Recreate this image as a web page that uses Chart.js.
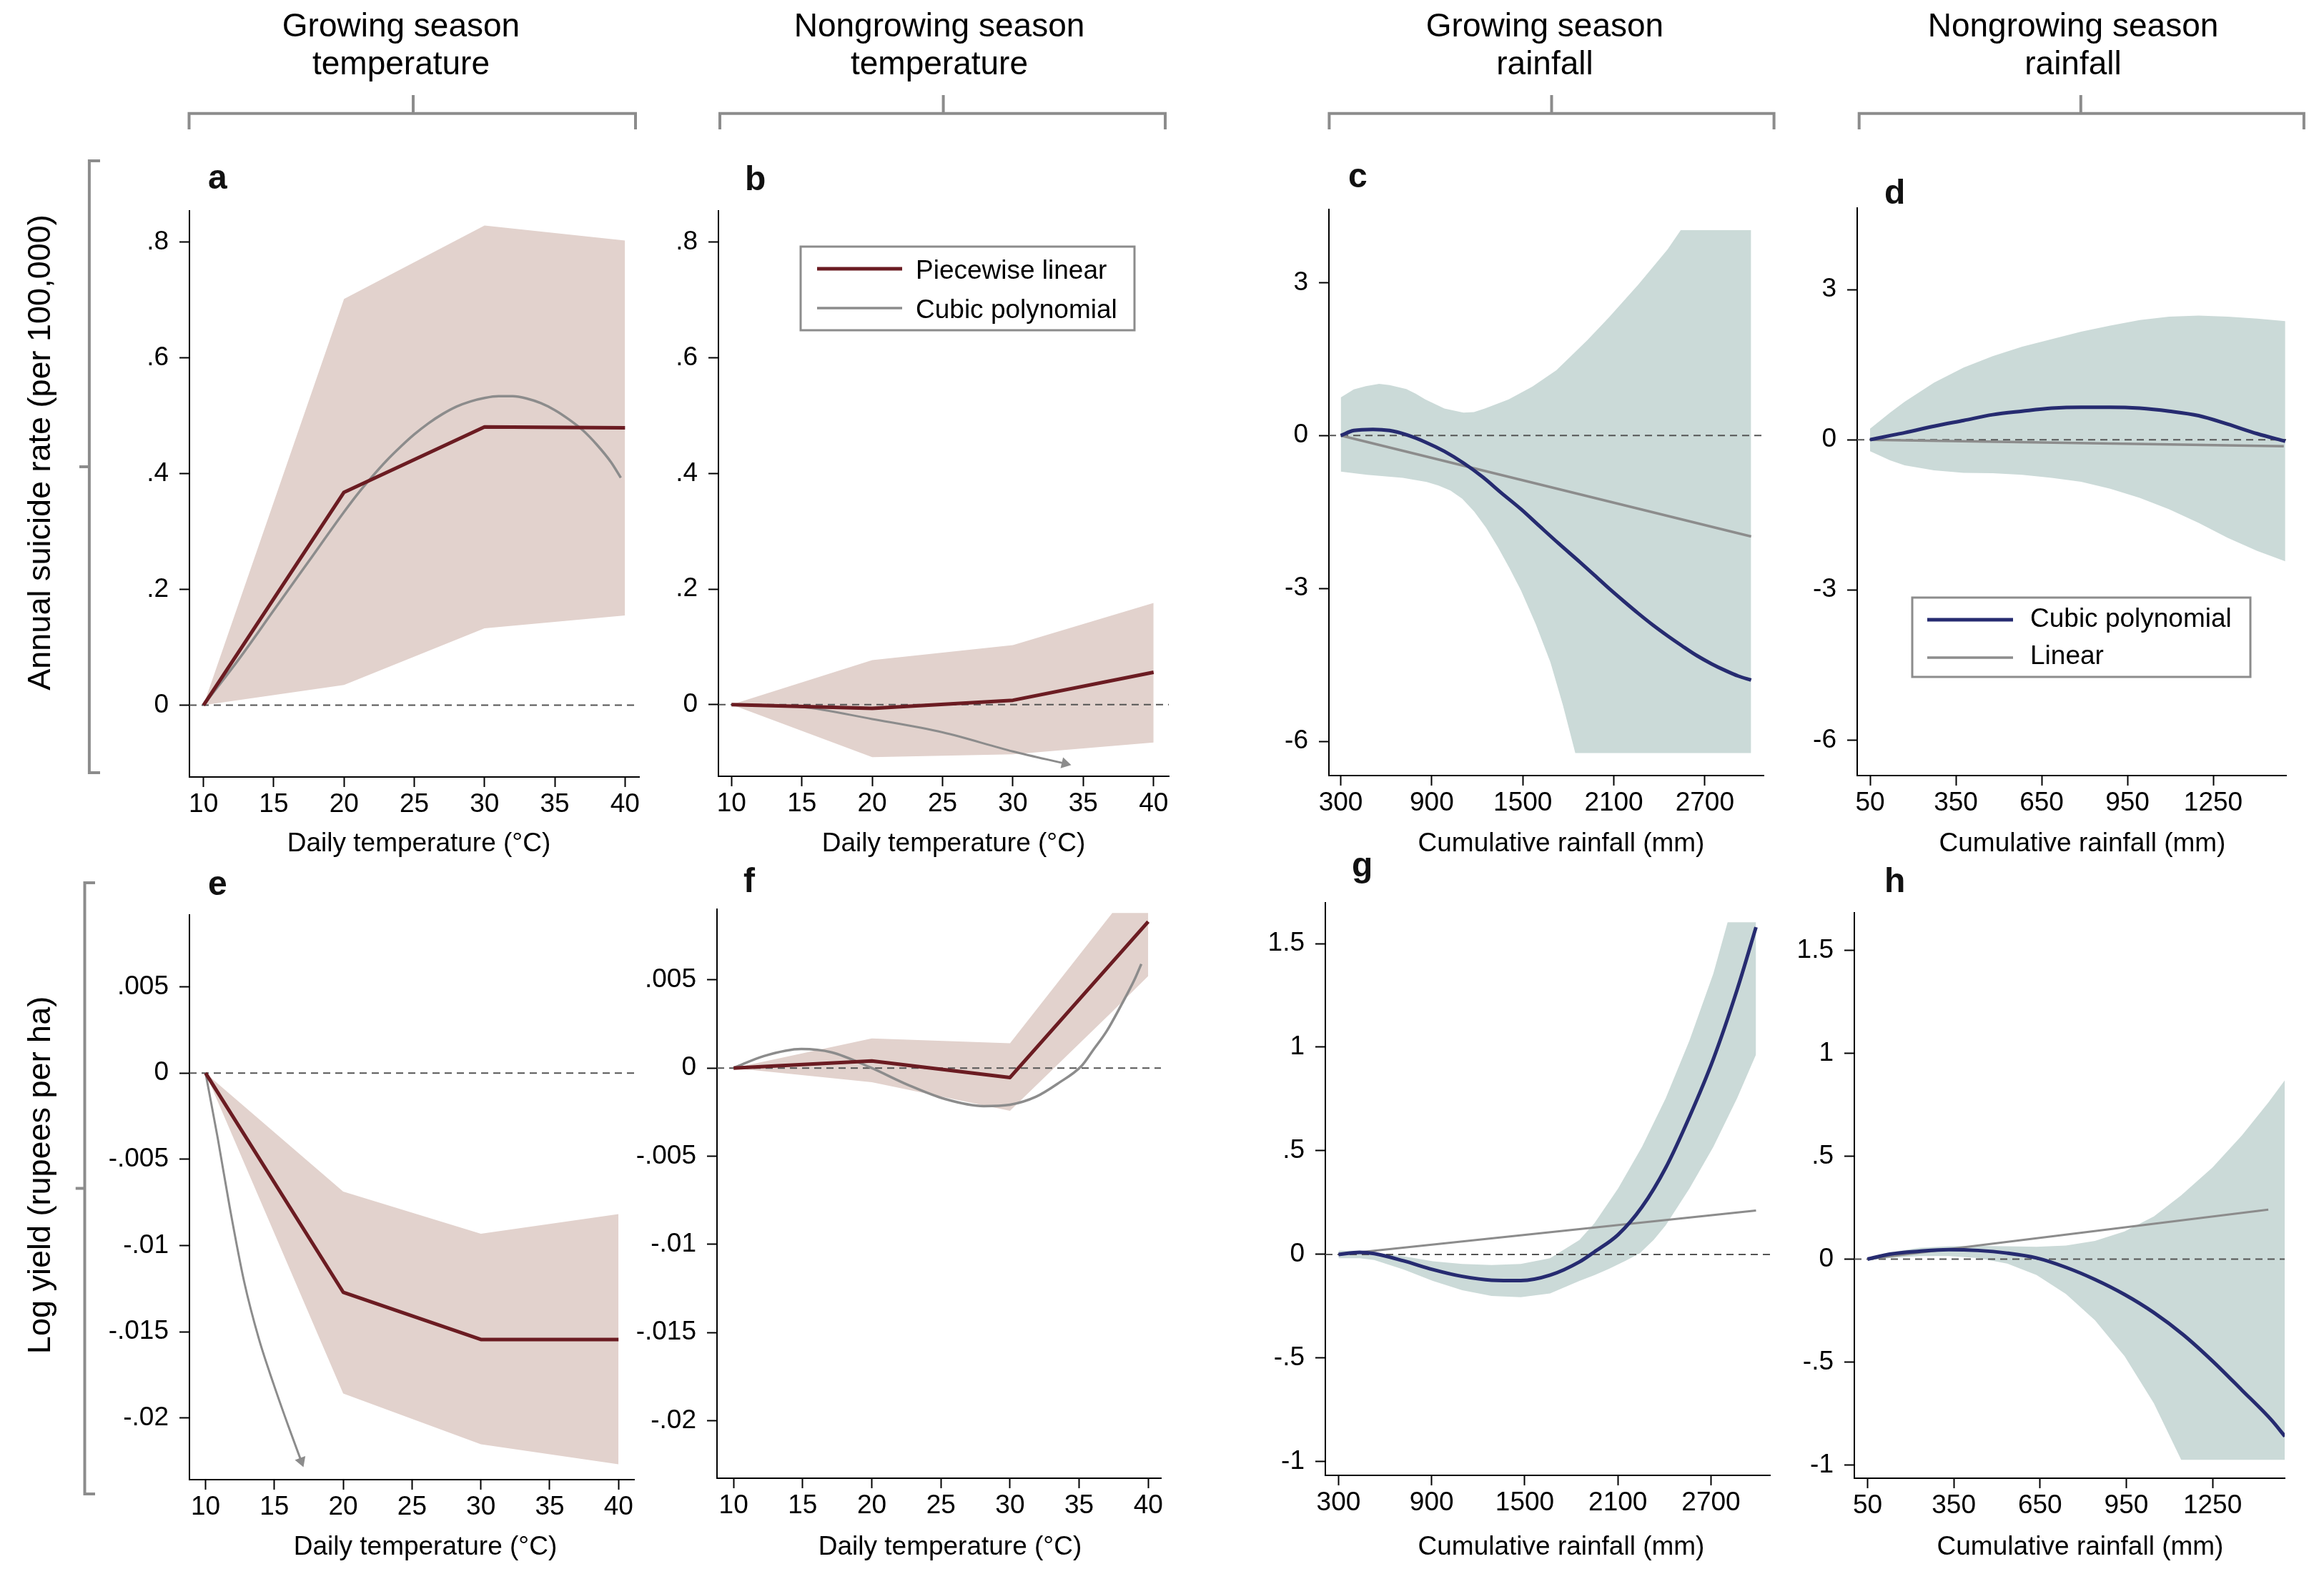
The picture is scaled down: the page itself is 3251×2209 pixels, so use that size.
<!DOCTYPE html>
<html>
<head>
<meta charset="utf-8">
<script src="https://cdn.jsdelivr.net/npm/chart.js@4.4.1/dist/chart.umd.min.js"></script>
<style>
  html, body { margin: 0; padding: 0; background: #fff; }
  #page { position: relative; width: 3251px; height: 2209px; overflow: hidden; background: #fff; }
  .panel { position: absolute; }
  #overlay { position: absolute; left: 0; top: 0; font-family: 'Liberation Sans', Arial, Helvetica, sans-serif; }
</style>
</head>
<body>
<div id="page">
<svg id="overlay" width="3251" height="2209" xmlns="http://www.w3.org/2000/svg">
  <g font-size="46" text-anchor="middle" fill="#000">
    <text x="561" y="51">Growing season</text><text x="561" y="104">temperature</text>
    <text x="1314" y="51">Nongrowing season</text><text x="1314" y="104">temperature</text>
    <text x="2161" y="51">Growing season</text><text x="2161" y="104">rainfall</text>
    <text x="2900" y="51">Nongrowing season</text><text x="2900" y="104">rainfall</text>
  </g>
  <g stroke="#8c8c8c" stroke-width="4" fill="none">
    <path d="M264.5,181 V158.7 H889 V181 M578,133 V158.7"/>
    <path d="M1007,181 V158.7 H1630 V181 M1319.6,133 V158.7"/>
    <path d="M1859.4,181 V158.7 H2481.6 V181 M2170.5,133 V158.7"/>
    <path d="M2600.7,181 V158.7 H3222.9 V181 M2910.8,133 V158.7"/>
    <path d="M140,225 H124.9 V1081 H140 M111,653 H124.9"/>
    <path d="M133,1235 H118.5 V2090 H133 M105.8,1662.6 H118.5"/>
  </g>
  <g font-size="45" text-anchor="middle" fill="#000">
    <text transform="translate(69.7,633) rotate(-90)">Annual suicide rate (per 100,000)</text>
    <text transform="translate(69.7,1644) rotate(-90)">Log yield (rupees per ha)</text>
  </g>
  <g font-size="48" font-weight="bold" fill="#111">
    <text x="291" y="264">a</text>
    <text x="1042" y="266">b</text>
    <text x="1886" y="262">c</text>
    <text x="2636" y="285">d</text>
    <text x="291" y="1252">e</text>
    <text x="1040" y="1248">f</text>
    <text x="1891" y="1226">g</text>
    <text x="2636" y="1248">h</text>
  </g>
  <g font-size="37" text-anchor="middle" fill="#000">
    <text x="586" y="1191">Daily temperature (°C)</text>
    <text x="1334" y="1191">Daily temperature (°C)</text>
    <text x="2184" y="1191">Cumulative rainfall (mm)</text>
    <text x="2913" y="1191">Cumulative rainfall (mm)</text>
    <text x="595" y="2175">Daily temperature (°C)</text>
    <text x="1329" y="2175">Daily temperature (°C)</text>
    <text x="2184" y="2175">Cumulative rainfall (mm)</text>
    <text x="2910" y="2175">Cumulative rainfall (mm)</text>
  </g>
  <!-- legend of panel b -->
  <rect x="1120" y="345" width="467" height="117" fill="#fff" stroke="#8c8c8c" stroke-width="3"/>
  <line x1="1143" y1="376" x2="1262" y2="376" stroke="#6b1c22" stroke-width="5"/>
  <line x1="1143" y1="431" x2="1262" y2="431" stroke="#8c8c8c" stroke-width="3.5"/>
  <text x="1281" y="390" font-size="37">Piecewise linear</text>
  <text x="1281" y="445" font-size="37">Cubic polynomial</text>
  <!-- legend of panel d -->
  <rect x="2675" y="836" width="473" height="111" fill="#fff" stroke="#8c8c8c" stroke-width="3"/>
  <line x1="2696" y1="867" x2="2816" y2="867" stroke="#262b70" stroke-width="5"/>
  <line x1="2696" y1="920" x2="2816" y2="920" stroke="#8c8c8c" stroke-width="3.5"/>
  <text x="2840" y="877" font-size="37">Cubic polynomial</text>
  <text x="2840" y="929" font-size="37">Linear</text>
</svg>
</div>
<script>
// ---- tick values ----
const tempTicks = [10, 15, 20, 25, 30, 35, 40];
const suicideTempTicks = [0, 0.2, 0.4, 0.6, 0.8];
const yieldTempTicks = [-0.02, -0.015, -0.01, -0.005, 0, 0.005];
const rainTicksGrowing = [300, 900, 1500, 2100, 2700];
const rainTicksNongrowing = [50, 350, 650, 950, 1250];
const suicideRainTicks = [-6, -3, 0, 3];
const yieldRainTicks = [-1, -0.5, 0, 0.5, 1, 1.5];

// ---- temperature knots (piecewise linear) ----
const tempKnots = [10, 20, 30, 40];

// a: growing season temperature -> suicide
const aLinear = [0, 0.368, 0.481, 0.4795];
const aUpper = [0, 0.702, 0.829, 0.803];
const aLower = [0, 0.035, 0.133, 0.155];
const aCubicX = [10, 12.5, 15, 17.5, 20, 21, 22, 23, 24, 25, 26, 27, 28, 29, 30, 31, 32, 33, 34, 35, 36, 37, 38, 39, 39.7];
const aCubic = [0, 0.079, 0.164, 0.249, 0.334, 0.366, 0.395, 0.422, 0.446, 0.468, 0.487, 0.503, 0.516, 0.525, 0.531, 0.534, 0.534, 0.53, 0.522, 0.51, 0.494, 0.475, 0.45, 0.42, 0.393];

// b: nongrowing season temperature -> suicide
const bLinear = [0, -0.0065, 0.0075, 0.056];
const bUpper = [0, 0.077, 0.103, 0.176];
const bLower = [0, -0.091, -0.086, -0.0655];
const bCubicX = [10, 15, 20, 25, 30, 33.7];
const bCubic = [0, -0.004, -0.025, -0.048, -0.081, -0.102];

// c: growing season rainfall -> suicide
const cCubicX = [300, 386, 512, 622, 732, 857, 983, 1109, 1234, 1360, 1486, 1611, 1737, 1875, 1972, 2068, 2165, 2261, 2358, 2454, 2551, 2648, 2744, 2841, 2920, 3005];
const cCubic = [0, 0.098, 0.121, 0.098, 0.016, -0.128, -0.31, -0.54, -0.81, -1.13, -1.44, -1.78, -2.12, -2.48, -2.74, -3.0, -3.25, -3.49, -3.72, -3.93, -4.13, -4.32, -4.48, -4.62, -4.72, -4.80];
const cLinearX = [300, 3005];
const cLinear = [0, -1.98];
const cUpperX = [300, 386, 465, 553, 622, 732, 794, 857, 983, 1109, 1178, 1250, 1407, 1564, 1721, 1925, 2068, 2261, 2454, 2541, 3005];
const cUpper = [0.747, 0.906, 0.97, 1.015, 0.99, 0.914, 0.82, 0.71, 0.53, 0.45, 0.46, 0.53, 0.71, 0.96, 1.28, 1.87, 2.32, 2.96, 3.65, 4.03, 4.03];
const cLowerX = [300, 386, 474, 709, 866, 944, 1023, 1101, 1179, 1258, 1336, 1412, 1488, 1585, 1682, 1765, 1846, 3005];
const cLower = [-0.709, -0.74, -0.77, -0.83, -0.91, -0.98, -1.08, -1.24, -1.49, -1.81, -2.19, -2.6, -3.04, -3.7, -4.45, -5.3, -6.23, -6.23];

// d: nongrowing season rainfall -> suicide
const dX = [50, 120, 171, 274, 377, 479, 582, 685, 788, 890, 993, 1096, 1199, 1301, 1404, 1502];
const dCubic = [0, 0.083, 0.14, 0.27, 0.385, 0.50, 0.57, 0.63, 0.65, 0.65, 0.63, 0.57, 0.48, 0.31, 0.12, -0.03];
const dUpper = [0.22, 0.54, 0.76, 1.14, 1.44, 1.67, 1.86, 2.01, 2.16, 2.28, 2.39, 2.46, 2.48, 2.46, 2.42, 2.37];
const dLower = [-0.23, -0.41, -0.51, -0.61, -0.66, -0.67, -0.70, -0.76, -0.84, -0.98, -1.16, -1.39, -1.66, -1.96, -2.22, -2.43];
const dLinearX = [50, 1497];
const dLinear = [0, -0.13];

// e: growing season temperature -> yield
const eLinear = [0, -0.01271, -0.01545, -0.01545];
const eUpper = [0, -0.00687, -0.00932, -0.00818];
const eLower = [0, -0.01858, -0.02153, -0.02269];
const eCubicX = [10, 10.89, 11.75, 12.81, 13.87, 14.94, 16.0, 16.95];
const eCubic = [0, -0.0038, -0.00775, -0.01212, -0.0154, -0.01803, -0.02044, -0.0225];

// f: nongrowing season temperature -> yield
const fLinear = [0, 0.0004, -0.00054, 0.0083];
const fBandX = [10, 20, 30, 37.4, 40];
const fUpper = [0, 0.00168, 0.0014, 0.0088, 0.0088];
const fLower = [0, -0.00081, -0.00243, 0.0032, 0.00522];
const fCubicX = [10, 12.2, 14.9, 17.1, 19.85, 22.6, 25.3, 28.1, 30, 31.9, 33.5, 35.2, 36, 37, 38, 39, 39.5];
const fCubic = [0, 0.00068, 0.00108, 0.00089, 0.00005, -0.00095, -0.00176, -0.00216, -0.00208, -0.00162, -0.00086, 0.00014, 0.0010, 0.0021, 0.0035, 0.0050, 0.0059];

// g: growing season rainfall -> yield
const gCubicX = [300, 436, 530, 719, 908, 1097, 1286, 1474, 1663, 1852, 1948, 2101, 2255, 2408, 2561, 2715, 2868, 2990];
const gCubic = [0, 0.01, 0.004, -0.031, -0.073, -0.106, -0.124, -0.126, -0.10, -0.036, 0.012, 0.095, 0.229, 0.418, 0.664, 0.943, 1.277, 1.579];
const gUpperX = [300, 436, 530, 719, 908, 1097, 1286, 1474, 1663, 1852, 1948, 2101, 2255, 2408, 2561, 2715, 2807, 2990];
const gUpper = [0.018, 0.018, 0.009, -0.009, -0.033, -0.046, -0.051, -0.046, -0.018, 0.07, 0.15, 0.318, 0.519, 0.753, 1.032, 1.355, 1.603, 1.603];
const gLowerX = [300, 436, 530, 719, 908, 1097, 1286, 1474, 1663, 1852, 1948, 2041, 2150, 2240, 2330, 2408, 2561, 2715, 2868, 2990];
const gLower = [-0.018, -0.018, -0.027, -0.073, -0.128, -0.173, -0.20, -0.206, -0.188, -0.128, -0.1, -0.07, -0.03, 0.005, 0.07, 0.14, 0.318, 0.519, 0.753, 0.965];
const gLinearX = [300, 2990];
const gLinear = [0, 0.212];

// h: nongrowing season rainfall -> yield
const hCubicX = [50, 128, 230, 332, 434, 536, 638, 740, 841, 944, 1046, 1148, 1250, 1352, 1454, 1502];
const hCubic = [0, 0.024, 0.038, 0.046, 0.042, 0.029, 0.0055, -0.040, -0.099, -0.172, -0.26, -0.367, -0.495, -0.636, -0.78, -0.861];
const hBandX = [50, 128, 230, 332, 434, 536, 638, 740, 841, 944, 1046, 1141, 1250, 1352, 1444, 1502];
const hUpper = [0.005, 0.033, 0.055, 0.062, 0.064, 0.062, 0.06, 0.066, 0.088, 0.134, 0.207, 0.31, 0.445, 0.60, 0.76, 0.87];
const hLower = [-0.007, 0.005, 0.015, 0.015, 0.005, -0.022, -0.077, -0.169, -0.297, -0.471, -0.70, -0.975, -0.975, -0.975, -0.975, -0.975];
const hLinearX = [50, 1444];
const hLinear = [0, 0.24];

// ---- styling / layout ----
const FONT = "'Liberation Sans', Arial, Helvetica, sans-serif";
const RED = '#6b1c22', PINK = '#e2d2cd', GREY = '#8c8c8c', NAVY = '#262b70', TEAL = '#cbdad8';
const AX_W = 200, AX_H = 70, PAD_T = 12, PAD_R = 30;

Chart.defaults.font.family = FONT;

function pts(xs, ys) {
  return xs.map((x, i) => ({ x: x, y: ys[i] }));
}

// Stata style labels: .8, -.005
function fmt(v) {
  return String(v).replace(/^(-?)0\./, '$1.');
}

// confidence band: lower edge, then upper edge filled down to it
function bandSets(xLo, lo, xHi, hi, color) {
  const common = { borderColor: 'rgba(0,0,0,0)', borderWidth: 0, pointRadius: 0, order: 5, tension: 0 };
  return [
    Object.assign({ data: pts(xLo, lo), fill: false }, common),
    Object.assign({ data: pts(xHi, hi), fill: '-1', backgroundColor: color }, common)
  ];
}

function zeroSet(xr) {
  return { data: [{ x: xr[0], y: 0 }, { x: xr[1], y: 0 }], borderColor: '#555', borderWidth: 2,
    borderDash: [10, 7], pointRadius: 0, fill: false, order: 4 };
}

function lineSet(xs, ys, color, width, smooth, order) {
  return { data: pts(xs, ys), borderColor: color, borderWidth: width, pointRadius: 0, fill: false,
    cubicInterpolationMode: smooth ? 'monotone' : 'default', tension: 0, order: order,
    borderJoinStyle: 'round' };
}

// the out-of-range cubic ends in an arrowhead
function arrowRotation(ctx) {
  const chart = ctx.chart, d = ctx.dataset.data, i = ctx.dataIndex;
  if (i === 0) return 0;
  const xs = chart.scales.x, ys = chart.scales.y;
  const dx = xs.getPixelForValue(d[i].x) - xs.getPixelForValue(d[i - 1].x);
  const dy = ys.getPixelForValue(d[i].y) - ys.getPixelForValue(d[i - 1].y);
  return Math.atan2(dx, -dy) * 180 / Math.PI;
}

function arrowSet(xs, ys) {
  const s = lineSet(xs, ys, GREY, 3, true, 3);
  s.pointStyle = 'triangle';
  s.pointRadius = ctx => (ctx.dataIndex === ctx.dataset.data.length - 1 ? 9 : 0);
  s.pointRotation = arrowRotation;
  s.pointBackgroundColor = GREY;
  s.pointBorderColor = GREY;
  s.pointBorderWidth = 0;
  return s;
}

function axis(range, ticks, horizontal) {
  return {
    type: 'linear', min: range[0], max: range[1], bounds: 'data',
    afterBuildTicks: s => { s.ticks = ticks.map(v => ({ value: v })); },
    afterFit: s => { if (horizontal) s.height = AX_H; else s.width = AX_W; },
    ticks: { color: '#000', font: { family: FONT, size: 37 }, padding: horizontal ? 3 : 15,
      maxRotation: 0, autoSkip: false, callback: v => fmt(v) },
    grid: { display: true, drawOnChartArea: false, drawTicks: true, tickLength: 14, tickWidth: 2, tickColor: '#000' },
    border: { display: true, color: '#000', width: 2 }
  };
}

function makePanel(box, xr, yr, xt, yt, datasets) {
  const left = Math.round(box.l - AX_W), top = Math.round(box.t - PAD_T);
  const w = Math.round(box.r) + PAD_R - left;
  const h = Math.round(box.b) + AX_H - top;
  const wrap = document.createElement('div');
  wrap.className = 'panel';
  wrap.style.left = left + 'px';
  wrap.style.top = top + 'px';
  wrap.style.width = w + 'px';
  wrap.style.height = h + 'px';
  const cv = document.createElement('canvas');
  cv.width = w;
  cv.height = h;
  wrap.appendChild(cv);
  const page = document.getElementById('page');
  page.insertBefore(wrap, document.getElementById('overlay'));
  datasets.push(zeroSet(xr));
  new Chart(cv, {
    type: 'line',
    data: { datasets: datasets },
    options: {
      responsive: false, animation: false, devicePixelRatio: 1,
      layout: { padding: { left: 0, top: PAD_T, right: PAD_R, bottom: 0 }, autoPadding: false },
      plugins: { legend: { display: false }, tooltip: { enabled: false } },
      scales: { x: axis(xr, xt, true), y: axis(yr, yt, false) }
    }
  });
}

// chart-area boxes (page pixels) and axis ranges
makePanel({ l: 264.5, t: 270, r: 894, b: 1086.5 }, [9, 41], [-0.124, 0.854], tempTicks, suicideTempTicks, [
  ...bandSets(tempKnots, aLower, tempKnots, aUpper, PINK),
  lineSet(aCubicX, aCubic, GREY, 3.5, true, 3),
  lineSet(tempKnots, aLinear, RED, 5, false, 1)
]);
makePanel({ l: 1005, t: 270, r: 1635, b: 1086 }, [9.07, 41.08], [-0.124, 0.854], tempTicks, suicideTempTicks, [
  ...bandSets(tempKnots, bLower, tempKnots, bUpper, PINK),
  arrowSet(bCubicX, bCubic),
  lineSet(tempKnots, bLinear, RED, 5, false, 1)
]);
makePanel({ l: 1858.5, t: 268, r: 2466.5, b: 1084.5 }, [222, 3087], [-6.673, 4.434], rainTicksGrowing, suicideRainTicks, [
  ...bandSets(cLowerX, cLower, cUpperX, cUpper, TEAL),
  lineSet(cLinearX, cLinear, GREY, 3.5, false, 3),
  lineSet(cCubicX, cCubic, NAVY, 5, true, 1)
]);
makePanel({ l: 2598, t: 266, r: 3198, b: 1084.5 }, [5, 1505], [-6.709, 4.626], rainTicksNongrowing, suicideRainTicks, [
  ...bandSets(dX, dLower, dX, dUpper, TEAL),
  lineSet(dLinearX, dLinear, GREY, 3.5, false, 3),
  lineSet(dX, dCubic, NAVY, 5, true, 1)
]);
makePanel({ l: 264.5, t: 1255, r: 887, b: 2069.5 }, [8.83, 41.13], [-0.02358, 0.00916], tempTicks, yieldTempTicks, [
  ...bandSets(tempKnots, eLower, tempKnots, eUpper, PINK),
  arrowSet(eCubicX, eCubic),
  lineSet(tempKnots, eLinear, RED, 5, false, 1)
]);
makePanel({ l: 1003, t: 1247, r: 1624, b: 2068 }, [8.8, 40.92], [-0.02327, 0.009], tempTicks, yieldTempTicks, [
  ...bandSets(fBandX, fLower, fBandX, fUpper, PINK),
  lineSet(fCubicX, fCubic, GREY, 3.5, true, 3),
  lineSet(tempKnots, fLinear, RED, 5, false, 1)
]);
makePanel({ l: 1853.5, t: 1238, r: 2476, b: 2064 }, [215, 3080], [-1.066, 1.696], rainTicksGrowing, yieldRainTicks, [
  ...bandSets(gLowerX, gLower, gUpperX, gUpper, TEAL),
  lineSet(gLinearX, gLinear, GREY, 3, false, 3),
  lineSet(gCubicX, gCubic, NAVY, 5, true, 1)
]);
makePanel({ l: 2594, t: 1252, r: 3196, b: 2068 }, [4, 1501], [-1.064, 1.681], rainTicksNongrowing, yieldRainTicks, [
  ...bandSets(hBandX, hLower, hBandX, hUpper, TEAL),
  lineSet(hLinearX, hLinear, GREY, 3, false, 3),
  lineSet(hCubicX, hCubic, NAVY, 5, true, 1)
]);
</script>
</body>
</html>
